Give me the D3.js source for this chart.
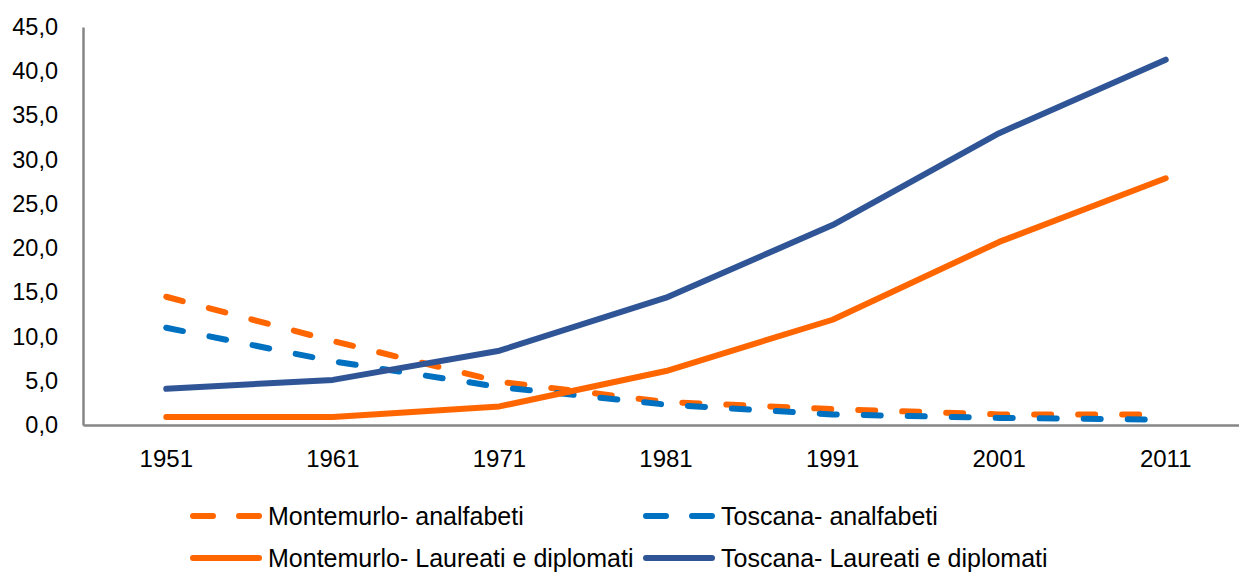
<!DOCTYPE html>
<html>
<head>
<meta charset="utf-8">
<script src="https://cdn.jsdelivr.net/npm/d3@7"></script>
<style>
  html, body { margin: 0; padding: 0; background: #fff; overflow: hidden; }
  svg { display: block; font-family: "Liberation Sans", Arial, sans-serif; }
</style>
</head>
<body>
<svg id="chart" width="1239" height="574"></svg>
<script>
const years = ["1951", "1961", "1971", "1981", "1991", "2001", "2011"];
const montemurloAnalfabeti = [14.5, 9.5, 4.9, 2.6, 1.8, 1.2, 1.2];
const toscanaAnalfabeti = [11.0, 7.2, 4.3, 2.3, 1.2, 0.8, 0.6];
const montemurloLaureati = [0.9, 0.9, 2.1, 6.1, 11.9, 20.7, 27.9];
const toscanaLaureati = [4.1, 5.1, 8.4, 14.4, 22.6, 33.0, 41.3];
const yTicks = [0, 5, 10, 15, 20, 25, 30, 35, 40, 45];

const seriesNames = [
  "Montemurlo- analfabeti",
  "Toscana- analfabeti",
  "Montemurlo- Laureati e diplomati",
  "Toscana- Laureati e diplomati"
];
const seriesValues = [montemurloAnalfabeti, toscanaAnalfabeti, montemurloLaureati, toscanaLaureati];
const seriesColors = ["#FF6600", "#0070C0", "#FF6600", "#2F5597"];
const seriesDashed = [true, true, false, false];

(function () {
const svg = d3.select("#chart");
const mLeft = 83, mRight = 1249, mTop = 27, mBottom = 425;

const x = d3.scaleBand().domain(years).range([mLeft, mRight]);
const y = d3.scaleLinear().domain([0, 45]).range([mBottom, mTop]);

// Y axis
const yAxis = svg.append("g")
  .attr("transform", `translate(${mLeft},0)`)
  .call(d3.axisLeft(y).tickValues(yTicks).tickSize(0).tickPadding(25)
        .tickFormat(d => d3.format(".1f")(d).replace(".", ",")));
yAxis.select(".domain").attr("stroke", "#868686").attr("stroke-width", 2.5);
yAxis.selectAll("text").attr("font-size", 23.5).attr("fill", "#000")
  .attr("font-family", "Liberation Sans, Arial, sans-serif");

// X axis
const xAxis = svg.append("g")
  .attr("transform", `translate(0,${mBottom})`)
  .call(d3.axisBottom(x).tickSize(0).tickPadding(25));
xAxis.select(".domain").attr("stroke", "#868686").attr("stroke-width", 2.5);
xAxis.selectAll("text").attr("font-size", 24).attr("fill", "#000")
  .attr("font-family", "Liberation Sans, Arial, sans-serif");

const line = d3.line()
  .x((d, i) => x(years[i]) + x.bandwidth() / 2)
  .y(d => y(d));

[0, 1, 2, 3].forEach(k => {
  svg.append("path")
    .datum(seriesValues[k])
    .attr("d", line)
    .attr("fill", "none")
    .attr("stroke", seriesColors[k])
    .attr("stroke-width", 6)
    .attr("stroke-linecap", "round")
    .attr("stroke-linejoin", "round")
    .attr("stroke-dasharray", seriesDashed[k] ? "17 27" : null);
});

// Legend
const legendPos = [
  { x: 193, y: 516 },
  { x: 646, y: 516 },
  { x: 193, y: 558 },
  { x: 646, y: 558 }
];
const legend = svg.append("g");
seriesNames.forEach((name, k) => {
  const p = legendPos[k];
  const g = legend.append("g").attr("transform", `translate(${p.x},${p.y})`);
  g.append("line")
    .attr("x1", 0).attr("x2", 66).attr("y1", 0).attr("y2", 0)
    .attr("stroke", seriesColors[k])
    .attr("stroke-width", 6)
    .attr("stroke-linecap", "round")
    .attr("stroke-dasharray", seriesDashed[k] ? "20 26" : null);
  g.append("text")
    .attr("x", 75).attr("y", 0).attr("dy", "0.35em")
    .attr("font-size", 25)
    .attr("fill", "#000")
    .text(name);
});
})();
</script>
</body>
</html>
